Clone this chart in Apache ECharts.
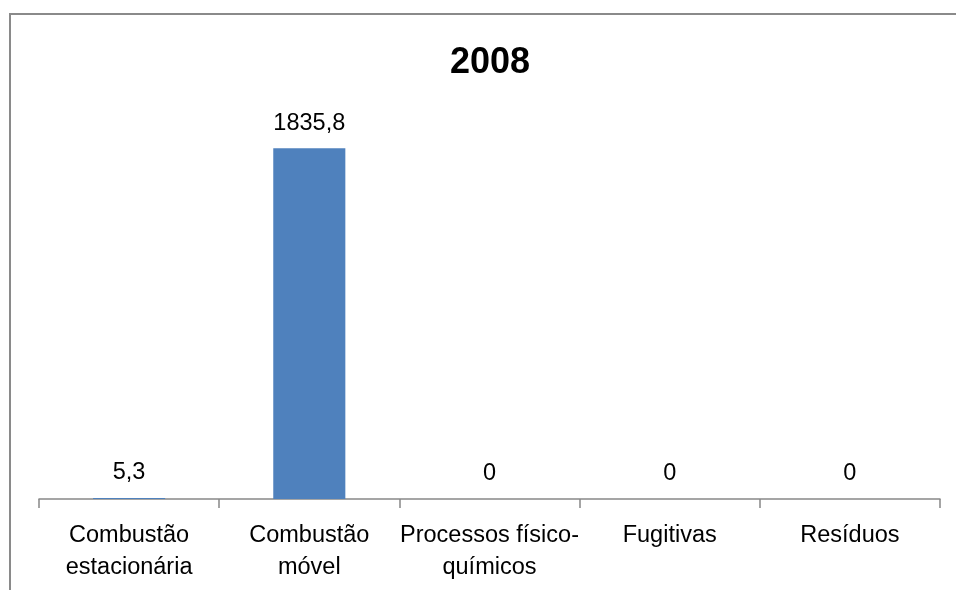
<!DOCTYPE html>
<html>
<head>
<meta charset="utf-8">
<script src="https://cdn.jsdelivr.net/npm/echarts@6/dist/echarts.min.js"></script>
<style>
  html, body { margin: 0; padding: 0; background: #fff; }
  #chart { width: 956px; height: 590px; }
</style>
</head>
<body>
<div id="chart"></div>
<script>
var title = '2008';
var categories = ['Combustão estacionária', 'Combustão móvel', 'Processos físico-químicos', 'Fugitivas', 'Resíduos'];
var tickLabels = ['Combustão\nestacionária', 'Combustão\nmóvel', 'Processos físico-\nquímicos', 'Fugitivas', 'Resíduos'];
var values = [5.3, 1835.8, 0, 0, 0];

var font = '"Liberation Sans", Arial, sans-serif';
var myChart = echarts.init(document.getElementById('chart'));

var option = {
  backgroundColor: '#fff',
  animation: false,
  title: {
    text: title,
    left: 485,
    textAlign: 'center',
    top: 40,
    textStyle: { fontFamily: font, fontSize: 36, fontWeight: 'bold', color: '#000' }
  },
  graphic: [{
    type: 'rect',
    shape: { x: 10, y: 14, width: 980, height: 620 },
    style: { fill: null, stroke: '#8a8a8a', lineWidth: 2 },
    silent: true
  }],
  grid: { left: 39, right: 16, top: 117, bottom: 91 },
  xAxis: {
    type: 'category',
    data: categories,
    axisLine: { show: true, lineStyle: { color: '#888', width: 1.5 } },
    axisTick: { show: true, length: 9, interval: 0, lineStyle: { color: '#888', width: 1.5 } },
    axisLabel: {
      margin: 21,
      interval: 0,
      color: '#000',
      fontFamily: font,
      fontSize: 23.5,
      lineHeight: 32,
      formatter: function (v, i) { return tickLabels[i]; }
    }
  },
  yAxis: {
    type: 'value',
    min: 0,
    max: 2000,
    show: false
  },
  series: [{
    type: 'bar',
    data: values,
    barCategoryGap: '60%',
    itemStyle: { color: '#4F81BD' },
    label: {
      show: true,
      position: 'top',
      distance: 13,
      color: '#000',
      fontFamily: font,
      fontSize: 23.5,
      formatter: function (p) { return String(p.value).replace('.', ','); }
    }
  }]
};
myChart.setOption(option);
</script>
</body>
</html>
